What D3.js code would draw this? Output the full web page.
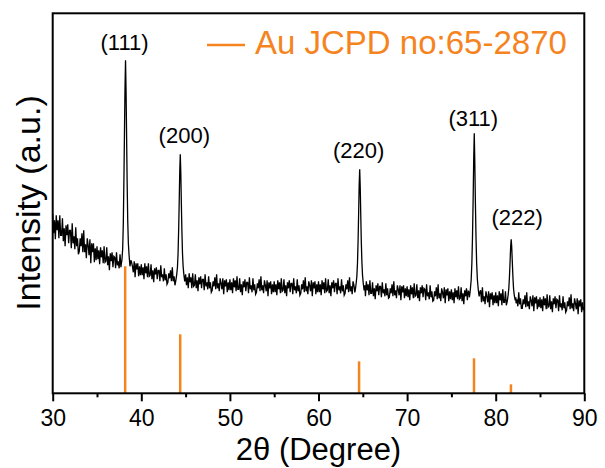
<!DOCTYPE html>
<html lang="en">
<head>
<meta charset="UTF-8" />
<title>XRD pattern - Au</title>
<script src="https://d3js.org/d3.v7.min.js"></script>
<style>
  body { margin: 0; background: #fff; }
  svg { display: block; font-family: "Liberation Sans", Arial, sans-serif; }
</style>
</head>
<body>
<div id="chart"></div>
<script>
const scanStart = 30;
const scanStep = 0.1;
const scanCounts = [
  179,160,173,154,178,163,173,155,178,158, 158,175,152,165,147,168,158,169,150,163,
  163,145,170,150,157,144,166,147,155,139, 142,155,147,160,141,163,141,149,135,155,
  148,138,154,130,150,141,150,131,145,133, 147,134,143,129,146,136,143,130,147,131,
  132,146,128,137,123,140,132,141,126,137, 136,125,141,128,132,125,139,126,132,122,
  123,132,126,135,122,137,122,127,119,131, 127,121,132,116,130,124,130,117,127,118,
  129,118,126,114,130,120,127,116,130,117, 118,129,114,123,111,125,119,126,114,123,
  123,112,128,116,119,112,125,113,119,109, 111,120,115,123,112,126,112,117,108,121,
  117,111,122,106,119,114,119,107,113,108, 119,108,116,105,120,111,116,105,120,107,
  108,119,105,113,102,116,109,117,105,114, 114,103,119,107,111,104,117,105,111,101,
  103,112,107,116,104,119,105,110,102,115, 110,104,115,99,113,107,114,101,111,103,
  114,103,111,100,115,106,113,102,117,104, 104,115,101,109,98,112,106,114,102,111,
  111,100,116,104,108,101,115,103,109,99, 101,110,105,114,102,117,103,108,100,113,
  108,102,113,97,111,105,112,99,109,101, 112,101,109,98,113,104,111,100,115,102,
  103,114,100,108,97,111,105,113,101,110, 110,99,115,103,107,100,114,102,108,98,
  100,109,104,113,101,116,102,107,99,112, 108,102,113,97,111,105,112,99,109,101,
  112,101,109,98,113,104,111,100,115,102, 103,114,100,108,97,111,105,113,101,110,
  110,99,115,103,107,100,114,102,108,98, 100,109,104,113,101,116,102,107,99,112,
  108,101,112,97,111,104,112,99,108,101, 111,100,108,97,112,103,109,98,113,100,
  100,111,97,105,94,108,102,110,98,107, 107,96,111,100,104,97,110,98,105,95,
  96,105,100,109,97,112,98,103,95,108, 104,98,108,93,107,101,108,95,105,97,
  107,96,104,93,108,99,106,95,110,97, 98,109,95,103,92,106,100,108,96,105,
  104,93,109,97,101,94,108,96,102,92, 93,102,97,106,94,109,95,100,92,105,
  101,95,106,90,104,98,105,92,102,94, 104,93,101,90,105,96,103,94,107,94,
  95,106,92,100,89,103,97,105,93,102, 101,90,106,94,98,91,105,93,99,89,
  90,99,94,103,91,106,92,97,89,102, 97,91,102,86,100,94,101,88,98,90,
  101,90,98,87,102,93,100,88,104,91, 91,102,88,96,85,99,93,101,89,98,
  97,86,102,90,94,87,101,89,95,85, 85,94,89,98,86,101,87,92,84,97,
  93,87,98,82,96,90,97,84,94,86, 96,85,94,82,97,88,95,84,99,86,
  87,98,84,92,81,95,89,97,85,94, 93,82,98,86,90,83,97,85,91,81,
  83,92,87,96,84,99,85,90,82,95, 90,84,95,79,93,87,94,81,91,83,
  86
];

// finer points across each reflection: [2theta, counts]
const peak111 = [[37.72,128],[37.82,134],[37.90,145],[37.97,170],[38.04,215],[38.10,260],[38.16,305],[38.22,333],
  [38.28,302],[38.34,258],[38.40,212],[38.47,172],[38.54,150],[38.62,138],[38.72,127],[38.82,133]];
const peak200 = [[43.90,113],[44.00,119],[44.08,126],[44.15,140],[44.22,165],[44.28,192],[44.34,222],[44.40,239],
  [44.46,220],[44.52,190],[44.58,163],[44.65,140],[44.72,127],[44.80,119],[44.90,112],[44.98,117]];
const peak220 = [[64.15,103],[64.25,110],[64.33,117],[64.40,130],[64.47,153],[64.53,180],[64.59,208],[64.65,224],
  [64.71,206],[64.77,178],[64.83,152],[64.90,131],[64.97,118],[65.05,110],[65.15,103],[65.23,108]];
const peak311 = [[77.03,96],[77.13,103],[77.23,113],[77.31,130],[77.38,156],[77.45,192],[77.52,235],[77.58,260],
  [77.64,232],[77.71,190],[77.78,155],[77.85,130],[77.93,114],[78.03,104],[78.13,97],[78.20,101]];
const peak222 = [[81.30,92],[81.40,98],[81.48,105],[81.55,116],[81.62,131],[81.69,147],[81.75,154],[81.81,146],
  [81.88,130],[81.95,115],[82.02,104],[82.10,98],[82.20,93],[82.27,96]];

// reference pattern Au JCPD no:65-2870
const refAngles = [38.18, 44.39, 64.58, 77.55, 81.72];
const refHeights = [127, 59, 32, 35, 9];

// peak labels
const hklLabels = ["(111)", "(200)", "(220)", "(311)", "(222)"];
const hklAngles = [38.22, 44.40, 64.65, 77.58, 81.75];
const hklTops = [333, 239, 224, 260, 154];

const xTicks = [30, 40, 50, 60, 70, 80, 90];
const xMinorTicks = [35, 45, 55, 65, 75, 85];

const width = 605, height = 468;
const margin = { top: 13.3, right: 20.7, bottom: 74.7, left: 52.7 };
const orange = "#f5841f";

const svg = d3.select("#chart").append("svg")
  .attr("width", width)
  .attr("height", height);

const x = d3.scaleLinear().domain([30, 90]).range([margin.left, width - margin.right]);
const y = d3.scaleLinear().domain([0, 380]).range([height - margin.bottom, margin.top]);

// merge the background scan with the finer peak points
const peaks = [peak111, peak200, peak220, peak311, peak222];
let points = scanCounts.map((c, i) => [scanStart + i * scanStep, c])
  .filter(p => !peaks.some(pk => p[0] >= pk[0][0] && p[0] <= pk[pk.length - 1][0]));
peaks.forEach(pk => { points = points.concat(pk); });
points.sort((a, b) => a[0] - b[0]);

// reference sticks
svg.append("g").selectAll("line")
  .data(refAngles)
  .join("line")
  .attr("x1", d => x(d)).attr("x2", d => x(d))
  .attr("y1", y(0))
  .attr("y2", (d, i) => y(refHeights[i]))
  .attr("stroke", orange)
  .attr("stroke-width", 2.5);

// measured pattern
const line = d3.line().x(d => x(d[0])).y(d => y(d[1]));
svg.append("path")
  .datum(points)
  .attr("d", line)
  .attr("fill", "none")
  .attr("stroke", "#000")
  .attr("stroke-width", 1.3);

// frame
svg.append("rect")
  .attr("x", margin.left).attr("y", margin.top)
  .attr("width", width - margin.left - margin.right)
  .attr("height", height - margin.top - margin.bottom)
  .attr("fill", "none")
  .attr("stroke", "#000")
  .attr("stroke-width", 2);

// bottom axis
const xAxis = svg.append("g")
  .attr("transform", `translate(0,${height - margin.bottom})`)
  .call(d3.axisBottom(x).tickValues(xTicks).tickSize(8).tickSizeOuter(0).tickPadding(8.5));
xAxis.select(".domain").remove();
xAxis.selectAll("line").attr("stroke", "#000").attr("stroke-width", 2);
xAxis.selectAll("text").attr("font-size", 23).attr("fill", "#000").attr("font-family", null);

const xMinor = svg.append("g")
  .attr("transform", `translate(0,${height - margin.bottom})`)
  .call(d3.axisBottom(x).tickValues(xMinorTicks).tickSize(4).tickSizeOuter(0).tickFormat(""));
xMinor.select(".domain").remove();
xMinor.selectAll("line").attr("stroke", "#000").attr("stroke-width", 2);

// axis titles
svg.append("text")
  .attr("x", (margin.left + width - margin.right) / 2)
  .attr("y", 460)
  .attr("text-anchor", "middle")
  .attr("font-size", 31)
  .text("2θ (Degree)");

svg.append("text")
  .attr("transform", "translate(40,203) rotate(-90)")
  .attr("text-anchor", "middle")
  .attr("font-size", 34)
  .text("Intensity (a.u.)");

// hkl labels
const labelNudgeX = [-1, 4, -1, -1, 6];
const labelGap = [10, 11, 11, 7, 14];
svg.append("g").selectAll("text")
  .data(hklLabels)
  .join("text")
  .attr("x", (d, i) => x(hklAngles[i]) + labelNudgeX[i])
  .attr("y", (d, i) => y(hklTops[i]) - labelGap[i])
  .attr("text-anchor", "middle")
  .attr("font-size", 22)
  .text(d => d);

// legend
const legend = svg.append("g");
legend.append("line")
  .attr("x1", 207).attr("x2", 245)
  .attr("y1", 45).attr("y2", 45)
  .attr("stroke", orange)
  .attr("stroke-width", 2.5);
legend.append("text")
  .attr("x", 255).attr("y", 54)
  .attr("font-size", 33)
  .attr("fill", orange)
  .text("Au JCPD no:65-2870");
</script>
</body>
</html>
